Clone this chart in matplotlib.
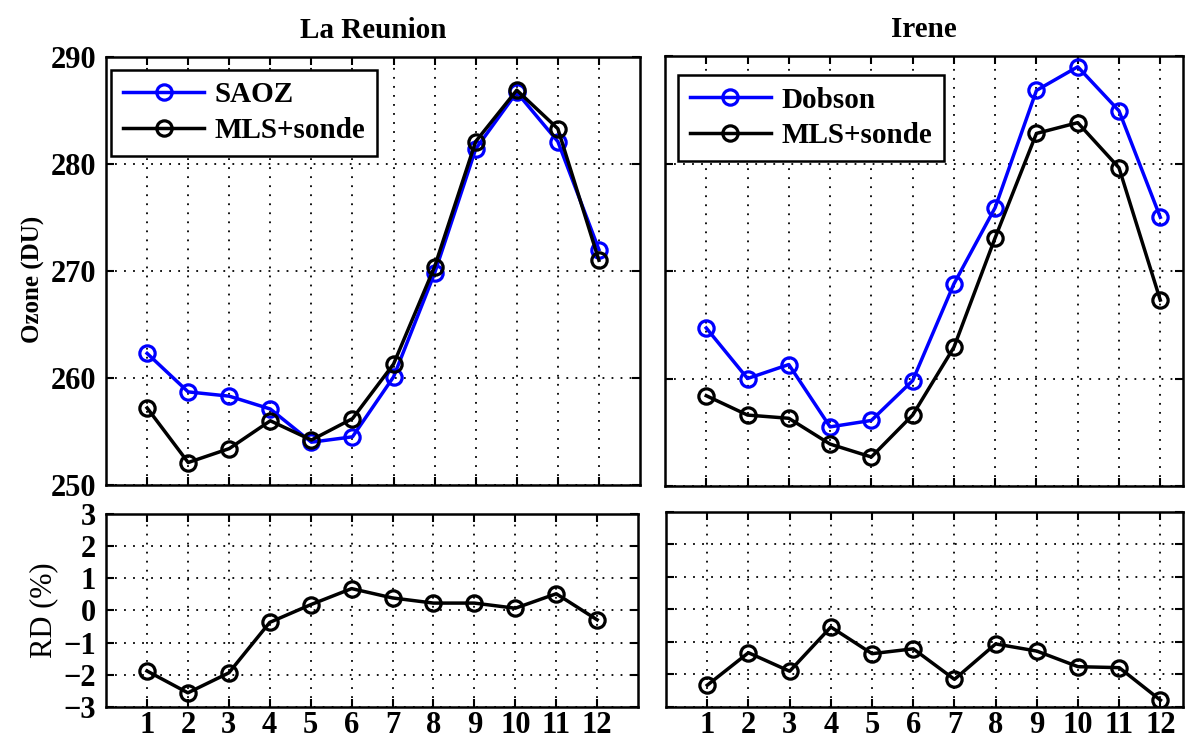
import matplotlib
matplotlib.use("Agg")
import matplotlib.pyplot as plt


months = list(range(1, 13))

# La Reunion
saoz = [262.3, 258.7, 258.3, 257.1, 254.0, 254.5, 260.1, 269.8, 281.4, 286.7, 282.1, 272.0]
mls_reunion = [257.2, 252.1, 253.4, 256.0, 254.2, 256.2, 261.3, 270.4, 282.1, 286.9, 283.3, 271.0]
rd_reunion = [-1.88, -2.56, -1.94, -0.37, 0.18, 0.68, 0.39, 0.23, 0.23, 0.07, 0.52, -0.29]

# Irene
dobson = [264.7, 260.0, 261.3, 255.5, 256.1, 259.8, 268.8, 275.9, 286.8, 289.0, 284.9, 275.0]
mls_irene = [258.4, 256.6, 256.3, 253.9, 252.7, 256.6, 262.9, 273.1, 282.8, 283.8, 279.6, 267.3]
rd_irene = [-2.33, -1.33, -1.90, -0.54, -1.36, -1.21, -2.15, -1.06, -1.28, -1.76, -1.79, -2.79]

ozone_ticks = [250, 260, 270, 280, 290]
rd_ticks = [-3, -2, -1, 0, 1, 2, 3]

FONT = "Liberation Serif"


def style_axes(ax):
    ax.grid(True, color="black", linestyle=(0, (1, 4)), linewidth=1.3)
    ax.tick_params(direction="in", top=True, right=True, length=6, width=1.5,
                   labelsize=22, pad=7)
    ax.tick_params(axis="x", pad=3)
    for lab in ax.get_xticklabels() + ax.get_yticklabels():
        lab.set_fontfamily(FONT)
        lab.set_fontweight("bold")
    for s in ax.spines.values():
        s.set_linewidth(1.8)


def main():
    fig = plt.figure(figsize=(11.9, 7.42), dpi=100)

    ax1 = fig.add_axes([0.0891, 0.3464, 0.4487, 0.5768])
    ax2 = fig.add_axes([0.0891, 0.0472, 0.4471, 0.2601])
    ax3 = fig.add_axes([0.5588, 0.3450, 0.4353, 0.5795])
    ax4 = fig.add_axes([0.5597, 0.0472, 0.4345, 0.2628])

    mk = dict(marker="o", markersize=11, markerfacecolor="none", markeredgewidth=2.3, linewidth=2.5)

    ax1.plot(months, saoz, color="#0000ff", label="SAOZ", **mk)
    ax1.plot(months, mls_reunion, color="black", label="MLS+sonde", **mk)
    ax3.plot(months, dobson, color="#0000ff", label="Dobson", **mk)
    ax3.plot(months, mls_irene, color="black", label="MLS+sonde", **mk)
    ax2.plot(months, rd_reunion, color="black", **mk)
    ax4.plot(months, rd_irene, color="black", **mk)

    for ax in (ax1, ax3):
        ax.set_ylim(250, 290)
        ax.set_yticks(ozone_ticks)
        ax.set_xticks(months)
        ax.tick_params(labelbottom=False)
    for ax in (ax2, ax4):
        ax.set_ylim(-3, 3)
        ax.set_yticks(rd_ticks)
        ax.set_xticks(months)
    ax1.set_xlim(0, 13)
    ax2.set_xlim(0, 13)
    ax3.set_xlim(0, 12.55)
    ax4.set_xlim(0, 12.55)
    ax3.tick_params(labelleft=False)
    ax4.tick_params(labelleft=False)

    for ax in (ax1, ax2, ax3, ax4):
        style_axes(ax)

    ax1.set_title("La Reunion", fontfamily=FONT, fontweight="bold", fontsize=21, pad=14)
    ax3.set_title("Irene", fontfamily=FONT, fontweight="bold", fontsize=21, pad=14)
    ax1.set_ylabel("Ozone (DU)", fontfamily=FONT, fontweight="bold", fontsize=18)
    ax1.yaxis.set_label_coords(-0.114, 0.48)
    ax2.set_ylabel("RD (%)", fontfamily=FONT, fontsize=22, labelpad=4)

    for ax, loc in ((ax1, (0.0094, 0.970)), (ax3, (0.025, 0.956))):
        leg = ax.legend(loc="upper left", bbox_to_anchor=loc, borderaxespad=0,
                        fancybox=False, framealpha=1, edgecolor="black",
                        borderpad=0.4, handlelength=2.8, handletextpad=0.35,
                        labelspacing=0.3,
                        prop={"family": FONT, "weight": "bold", "size": 21})
        leg.get_frame().set_linewidth(1.8)

    fig.savefig("out.png", dpi=100)


if __name__ == "__main__":
    main()
